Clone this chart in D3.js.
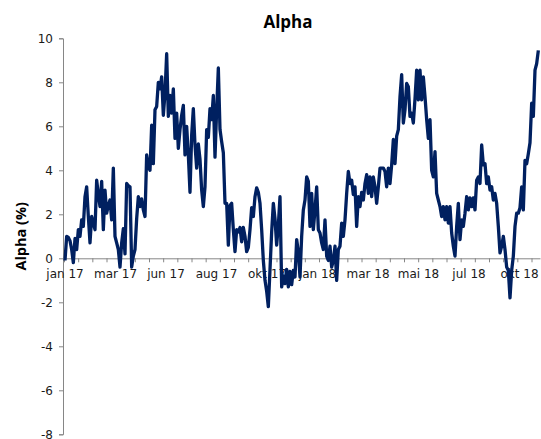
<!DOCTYPE html>
<html lang="en">
<head>
	<meta charset="UTF-8">
	<title>Alpha</title>
	<style>
		body { margin: 0; background: #fff; }
		text { font-family: "DejaVu Sans", Verdana, sans-serif; fill: #1a1a1a; }
		.title { font-family: "Open Sans", sans-serif; font-weight: bold; fill: #000; }
	</style>
</head>
<body>
	<script src="https://cdn.jsdelivr.net/npm/d3@7"></script>
	<script>
		// alpha in % at even steps along the time axis
		var alpha = [
			-0.1, 1.0, 0.95, 0.8, 0.4, -0.2, 0.9, 0.4, 1.3, 1.0,
			1.75, 1.45, 2.8, 3.25, 1.9, 0.7, 1.9, 1.6, 1.3, 3.55,
			2.9, 2.35, 3.5, 1.3, 3.1, 2.05, 2.4, 2.65, 1.75, 4.1,
			1.0, 0.7, 0.4, -0.4, 0.7, 1.35, 0.2, 3.4, 3.3, 3.25,
			-0.4, 0.1, 0.4, 1.8, 2.8, 2.35, 2.7, 2.2, 1.9, 4.7,
			4.2, 4.0, 6.05, 4.3, 6.75, 6.9, 8.0, 7.7, 8.25, 6.5,
			7.5, 9.3, 6.45, 7.4, 6.6, 7.7, 5.45, 6.6, 5.0, 5.85,
			6.5, 6.95, 4.7, 6.0, 4.7, 3.0, 5.6, 6.8, 5.15, 4.1,
			5.2, 4.5, 3.1, 2.35, 3.25, 5.85, 5.5, 6.8, 6.3, 7.4,
			4.6, 6.75, 8.65, 5.85, 5.3, 4.8, 2.5, 2.5, 0.6, 2.4,
			2.5, 1.3, 0.3,
			1.3, 1.2, 1.4, 0.75, 1.4, 1.0, 0.3, 0.5, 1.3, 2.3,
			1.9, 2.8, 3.2, 3.0, 2.5, 1.3, -0.1, -1.0, -1.5, -2.2,
			-0.5, 1.2, 2.5, 1.8, 0.6, 1.5, 2.8, -1.3, -0.8, -1.15,
			-0.5, -1.3, -0.6, -1.2, -0.55, -0.85, 0.85, 0.3, -0.85, 1.0,
			2.2, 2.65, 3.7, 3.5, 1.45, 2.95, 1.3, 2.2, 3.25, 1.3,
			1.15, 0.7, 0.4, 1.75, 0.1, -0.1, 0.55, -0.4, -0.1, 0.55,
			-1.0, 0.4, 0.55, 1.6, 1.0, 1.75, 2.95, 3.95, 3.4, 3.55,
			2.9, 3.25, 1.45, 2.8, 2.35, 3.0, 2.65, 3.4, 3.8, 2.95,
			3.7,
			2.8, 3.7, 3.25, 2.5, 3.25, 4.1, 4.1, 4.1, 3.95, 3.25,
			4.1, 3.4, 4.25, 5.4, 4.3, 5.55, 5.85, 7.35, 8.35, 6.15,
			6.75, 7.95, 7.8, 6.45, 6.6, 6.15, 7.25, 8.55, 7.2, 8.55,
			7.2, 8.25, 7.35, 6.3, 5.45, 6.3, 4.0, 3.7, 4.85, 2.95,
			2.65, 2.35, 1.9, 2.35, 1.75, 2.35, 1.6, 2.35, 1.15, 0.55,
			0.1, 1.45, 2.5, 0.85, 1.75, 1.45, 2.05, 2.8, 2.2, 2.75,
			2.35, 2.75, 2.2, 3.55, 3.7, 3.4, 5.15, 4.25, 4.3, 3.4,
			3.7, 3.1, 3.25, 2.65, 2.95, 2.5, 1.45, 0.25, 0.55, 1.0,
			0.4, -0.4, -0.55, -1.8, -0.55, 0.1, 1.45, 2.05, 2.05, 2.3,
			3.25, 2.2, 4.45, 4.3, 4.75, 5.25, 7.05, 6.45, 8.55, 8.85,
			9.45
		];

		var monthLabels = ["jan 17", "mar 17", "jun 17", "aug 17", "okt 17",
			"jan 18", "mar 18", "mai 18", "jul 18", "okt 18"];
		var yTicks = [-8, -6, -4, -2, 0, 2, 4, 6, 8, 10];

		var width = 541,
			height = 439,
			plotLeft = 63,
			plotRight = 540,
			plotTop = 38.3,
			plotBottom = 434.3,
			labelEvery = 30.3,   // points between month labels
			tickEvery = 8.5;     // points between tick marks

		var x = d3.scaleLinear()
				.domain([-1.2, alpha.length])
				.range([plotLeft, plotRight]),
			y = d3.scaleLinear()
				.domain([-8, 10])
				.range([plotBottom, plotTop]);

		var svg = d3.select("body").append("svg")
			.attr("width", width)
			.attr("height", height)

		svg.append("text")
			.attr("class", "title")
			.attr("x", 288)
			.attr("y", 27.5)
			.attr("text-anchor", "middle")
			.style("font-size", "17px")
			.text("Alpha")

		svg.append("text")
			.attr("class", "title")
			.attr("transform", "translate(26," + ((plotTop + plotBottom) / 2) + ") rotate(-90)")
			.attr("text-anchor", "middle")
			.style("font-size", "14.5px")
			.text("Alpha (%)")

		// y axis
		var yAxis = svg.append("g")
			.attr("transform", "translate(" + plotLeft + ",0)")
			.call(d3.axisLeft(y).tickValues(yTicks).tickSize(4).tickPadding(6)
				.tickFormat(function(d){ return String(d); }))
		yAxis.selectAll("text").style("font-size", "12px").attr("font-family", null)
		yAxis.select(".domain").attr("stroke", "#868686")
		yAxis.selectAll("line").attr("stroke", "#868686")

		// x axis: tick marks and month labels sit on different steps
		var tickPos = d3.range(-0.6, alpha.length, tickEvery);
		var xTicks = svg.append("g")
			.attr("transform", "translate(0," + y(0) + ")")
			.call(d3.axisBottom(x).tickValues(tickPos).tickSize(4).tickFormat("").tickSizeOuter(0))
		xTicks.select(".domain").attr("stroke", "#868686")
		xTicks.selectAll("line").attr("stroke", "#868686")

		var labelPos = monthLabels.map(function(d, i){ return i * labelEvery; });
		svg.append("g")
			.selectAll("text")
			.data(monthLabels)
			.enter()
			.append("text")
			.attr("x", function(d, i){ return x(labelPos[i]); })
			.attr("y", y(0) + 19.5)
			.attr("text-anchor", "middle")
			.style("font-size", "12px")
			.text(function(d){ return d; })

		var line = d3.line()
			.x(function(d, i){ return x(i); })
			.y(function(d){ return y(d); })

		svg.append("path")
			.datum(alpha)
			.attr("d", line)
			.attr("fill", "none")
			.attr("stroke", "#002060")
			.attr("stroke-width", 3.3)
			.attr("stroke-linejoin", "round")
	</script>
</body>
</html>
